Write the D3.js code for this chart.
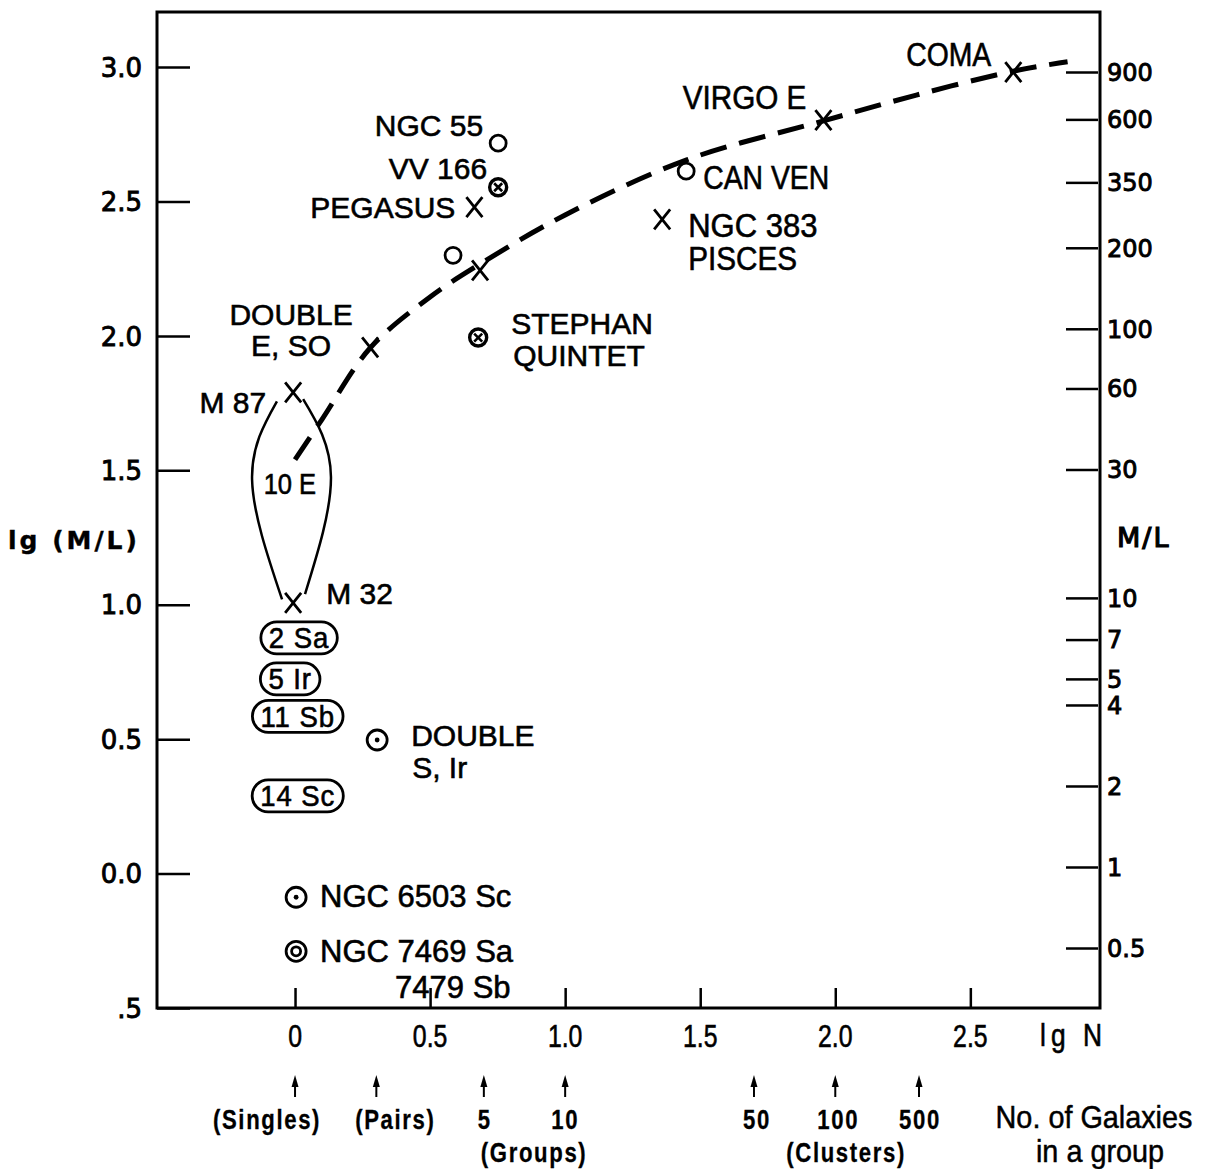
<!DOCTYPE html>
<html>
<head>
<meta charset="utf-8">
<script src="https://cdn.jsdelivr.net/npm/d3@7"></script>
<style>
  body { margin: 0; background: #fff; }
  svg text { fill: #000; }
</style>
</head>
<body>
<svg id="chart" width="1205" height="1169"></svg>
<script>
// lg N (x) vs lg (M/L) (y)
const crosses = [
  { name: "COMA", n: 2.659, ml: 2.981 },
  { name: "VIRGO E", n: 1.956, ml: 2.803 },
  { name: "NGC 383", n: 1.359, ml: 2.434 },
  { name: "PEGASUS", n: 0.664, ml: 2.479 },
  { name: "", n: 0.685, ml: 2.244 },
  { name: "DOUBLE E,SO", n: 0.278, ml: 1.957 },
  { name: "M 87", n: -0.007, ml: 1.790 },
  { name: "M 32", n: -0.007, ml: 1.007 }
];
const openCircles = [
  { name: "NGC 55", n: 0.752, ml: 2.717 },
  { name: "", n: 0.585, ml: 2.300 },
  { name: "CAN VEN", n: 1.448, ml: 2.613 }
];
const circledCrosses = [
  { name: "VV 166", n: 0.752, ml: 2.553 },
  { name: "STEPHAN", n: 0.678, ml: 1.994 }
];
const dotCircles = [
  { name: "DOUBLE S,Ir", n: 0.304, ml: 0.497 },
  { name: "NGC 6503", n: 0.004, ml: -0.088 }
];
const doubleCircles = [
  { name: "NGC 7469", n: 0.004, ml: -0.289 }
];
const boxes = [
  { text: "2 Sa", n: 0.015, ml: 0.877 },
  { text: "5 Ir", n: -0.018, ml: 0.724 },
  { text: "11 Sb", n: 0.010, ml: 0.585 },
  { text: "14 Sc", n: 0.010, ml: 0.289 }
];
const trend = [
  [0.0, 1.54], [0.1, 1.69], [0.278, 1.955], [0.5, 2.145], [0.689, 2.27],
  [1.0, 2.45], [1.45, 2.655], [1.956, 2.80], [2.3, 2.896], [2.659, 2.985], [2.86, 3.02]
];
const lensLeft = [[-0.067, 1.757], [-0.159, 1.465], [-0.048, 1.02]];
const lensRight = [[0.030, 1.765], [0.133, 1.475], [0.037, 1.04]];

const leftTicks = [-0.5, 0, 0.5, 1.0, 1.5, 2.0, 2.5, 3.0];
const rightTicks = [0.5, 1, 2, 4, 5, 7, 10, 30, 60, 100, 200, 350, 600, 900];
const bottomTicks = [0, 0.5, 1.0, 1.5, 2.0, 2.5];
const groupArrows = [0, 0.301, 0.699, 1.0, 1.699, 2.0, 2.31];
const groupLabels = ["(Singles)", "(Pairs)", "5", "10", "50", "100", "500"];

const svg = d3.select("#chart");
const x = d3.scaleLinear().domain([-0.511, 2.98]).range([157, 1100]);
const y = d3.scaleLinear().domain([-0.5, 3.205]).range([1008, 12]);
const ml = d3.scaleLog().domain([0.5, 900]).range([948, 72]);

const sans = "'Liberation Sans', Arial, sans-serif";
const geo = "'DejaVu Sans', sans-serif";

// text helper: optional horizontal squeeze for the condensed lettering
function label(px, py, txt, o = {}) {
  const sx = o.sx || 1;
  const g = svg.append("g").attr("transform", `translate(${px},${py}) scale(${sx},1)`);
  return g.append("text")
    .attr("text-anchor", o.anchor || "start")
    .attr("dominant-baseline", "central")
    .attr("font-family", o.font || sans)
    .attr("font-size", o.size || 30)
    .attr("font-weight", o.weight || "normal")
    .attr("letter-spacing", o.ls || 0)
    .attr("stroke", "#000").attr("stroke-width", o.sw == null ? 0.6 : o.sw)
    .text(txt);
}

// frame
svg.append("rect")
  .attr("x", 157).attr("y", 12).attr("width", 1100 - 157).attr("height", 1008 - 12)
  .attr("fill", "none").attr("stroke", "#000").attr("stroke-width", 3);

// left axis (lg M/L)
const ax = svg.append("g")
  .attr("transform", "translate(157,0)")
  .call(d3.axisLeft(y).tickValues(leftTicks).tickSize(-33).tickPadding(15)
    .tickFormat(d => d === -0.5 ? ".5" : d3.format(".1f")(d)));
ax.select(".domain").remove();
ax.selectAll("line").attr("stroke-width", 2.5);
ax.selectAll("text").attr("font-family", geo).attr("font-size", 26).attr("dy", "0.35em")
  .attr("stroke", "#000").attr("stroke-width", 0.9);

label(8, y(1.238), "lg (M/L)", { font: geo, size: 25, weight: "bold", ls: 3, sw: 0.4 });

// right axis (M/L)
const ar = svg.append("g")
  .attr("transform", "translate(1098,0)")
  .call(d3.axisRight(ml).tickValues(rightTicks).tickSize(-32).tickPadding(9)
    .tickFormat(d => String(d)));
ar.select(".domain").remove();
ar.selectAll("line").attr("stroke-width", 2.5);
ar.selectAll("text").attr("font-family", geo).attr("font-size", 24).attr("dy", "0.35em")
  .attr("stroke", "#000").attr("stroke-width", 0.9);

label(1117, 537, "M/L", { font: geo, size: 27, ls: 2, sw: 1.2 });

// bottom axis (lg N)
const ab = svg.append("g")
  .attr("transform", "translate(0,1008)")
  .call(d3.axisBottom(x).tickValues(bottomTicks).tickSize(-20).tickPadding(18)
    .tickFormat(d => d === 0 ? "0" : d3.format(".1f")(d)));
ab.select(".domain").remove();
ab.selectAll("line").attr("stroke-width", 2.5);
ab.selectAll("text").remove();
bottomTicks.forEach(v => {
  label(x(v), 1037, v === 0 ? "0" : d3.format(".1f")(v), { anchor: "middle", size: 31, sx: 0.8 });
});
label(1040, 1035, "lg N", { size: 31, sx: 0.85, ls: 6 });

// dashed trend
const line = d3.line().x(d => x(d[0])).y(d => y(d[1])).curve(d3.curveCatmullRom.alpha(0.5));
svg.append("path")
  .attr("d", line(trend))
  .attr("fill", "none").attr("stroke", "#000").attr("stroke-width", 5)
  .attr("stroke-dasharray", "27,13");

// lens around the ellipticals
const lens = d3.line().x(d => x(d[0])).y(d => y(d[1])).curve(d3.curveNatural);
[lensLeft, lensRight].forEach(pts => {
  svg.append("path")
    .attr("d", lens(pts))
    .attr("fill", "none").attr("stroke", "#000").attr("stroke-width", 2.5);
});
label(x(-0.019), y(1.45), "10 E", { anchor: "middle", size: 29, sx: 0.88 });

// markers
const marks = svg.append("g").attr("stroke", "#000").attr("fill", "none");

crosses.forEach(d => {
  const cx = x(d.n), cy = y(d.ml);
  marks.append("path")
    .attr("d", `M${cx - 8},${cy - 10}L${cx + 8},${cy + 10}M${cx + 8},${cy - 10}L${cx - 8},${cy + 10}`)
    .attr("stroke-width", 2.8);
});
openCircles.forEach(d => {
  marks.append("circle").attr("cx", x(d.n)).attr("cy", y(d.ml)).attr("r", 8)
    .attr("stroke-width", 2.8);
});
circledCrosses.forEach(d => {
  const cx = x(d.n), cy = y(d.ml);
  marks.append("circle").attr("cx", cx).attr("cy", cy).attr("r", 8.5).attr("stroke-width", 3.4);
  marks.append("path")
    .attr("d", `M${cx - 4},${cy - 4}L${cx + 4},${cy + 4}M${cx + 4},${cy - 4}L${cx - 4},${cy + 4}`)
    .attr("stroke-width", 2.6);
});
dotCircles.forEach(d => {
  const cx = x(d.n), cy = y(d.ml);
  marks.append("circle").attr("cx", cx).attr("cy", cy).attr("r", 10).attr("stroke-width", 2.8);
  marks.append("circle").attr("cx", cx).attr("cy", cy).attr("r", 2.4).attr("fill", "#000").attr("stroke", "none");
});
doubleCircles.forEach(d => {
  const cx = x(d.n), cy = y(d.ml);
  marks.append("circle").attr("cx", cx).attr("cy", cy).attr("r", 10).attr("stroke-width", 2.8);
  marks.append("circle").attr("cx", cx).attr("cy", cy).attr("r", 4.5).attr("stroke-width", 2.8);
});

// boxed counts of types
boxes.forEach(b => {
  const cx = x(b.n), cy = y(b.ml);
  const t = label(cx, cy, b.text, { anchor: "middle", size: 29, sx: 0.95, ls: 1 });
  const w = t.node().getBBox().width * 0.95 + 16, h = 32;
  svg.append("rect")
    .attr("x", cx - w / 2).attr("y", cy - h / 2).attr("width", w).attr("height", h)
    .attr("rx", h / 2).attr("ry", h / 2)
    .attr("fill", "none").attr("stroke", "#000").attr("stroke-width", 2.8);
});

// point labels: [text, anchor point, dx, dy, anchor, size, squeeze]
const all = [].concat(crosses, openCircles, circledCrosses, dotCircles, doubleCircles);
const at = name => all.find(d => d.name === name);
const labels = [
  ["COMA", "COMA", -22, -17, "end", 33, 0.86],
  ["VIRGO E", "VIRGO E", -17, -22, "end", 33, 0.9],
  ["NGC 383", "NGC 383", 26, 6, "start", 33, 0.94],
  ["PISCES", "NGC 383", 26, 40, "start", 33, 0.9],
  ["CAN VEN", "CAN VEN", 17, 7, "start", 33, 0.86],
  ["NGC 55", "NGC 55", -15, -18, "end", 30, 1],
  ["VV 166", "VV 166", -11, -19, "end", 30, 1],
  ["PEGASUS", "PEGASUS", -19, 0, "end", 30, 1],
  ["DOUBLE", "DOUBLE E,SO", -79, -33, "middle", 30, 1],
  ["E, SO", "DOUBLE E,SO", -79, -2, "middle", 30, 1],
  ["STEPHAN", "STEPHAN", 33, -14, "start", 30, 1],
  ["QUINTET", "STEPHAN", 35, 18, "start", 30, 1],
  ["M 87", "M 87", -27, 10, "end", 30, 1],
  ["M 32", "M 32", 33, -9, "start", 30, 1],
  ["DOUBLE", "DOUBLE S,Ir", 34, -4, "start", 30, 1],
  ["S, Ir", "DOUBLE S,Ir", 35, 28, "start", 30, 1],
  ["NGC 6503 Sc", "NGC 6503", 24, -1, "start", 31, 1],
  ["NGC 7469 Sa", "NGC 7469", 24, 0, "start", 31, 1],
  ["7479 Sb", "NGC 7469", 99, 36, "start", 31, 1]
];
labels.forEach(([txt, ref, dx, dy, anchor, size, sx]) => {
  const p = at(ref);
  label(x(p.n) + dx, y(p.ml) + dy, txt, { anchor, size, sx });
});

// number of galaxies in a group
const labelShift = [-28, 19, 1, 0, 3, 3, 1];
groupArrows.forEach((n, i) => {
  const ax0 = x(n);
  svg.append("line")
    .attr("x1", ax0).attr("x2", ax0).attr("y1", 1097).attr("y2", 1082)
    .attr("stroke", "#000").attr("stroke-width", 2);
  svg.append("path")
    .attr("d", `M${ax0},1075L${ax0 - 3.5},1087L${ax0 + 3.5},1087Z`)
    .attr("fill", "#000");
  label(ax0 + labelShift[i], 1120, groupLabels[i],
    { anchor: "middle", size: 27, weight: "bold", sx: 0.82, ls: 2, sw: 0.3 });
});
label(x(0.885), 1153, "(Groups)", { anchor: "middle", size: 27, weight: "bold", sx: 0.82, ls: 2, sw: 0.3 });
label(x(2.04), 1153, "(Clusters)", { anchor: "middle", size: 27, weight: "bold", sx: 0.82, ls: 2, sw: 0.3 });
label(1094, 1116, "No. of Galaxies", { anchor: "middle", size: 32, sx: 0.9, sw: 0.5 });
label(1100, 1150, "in a group", { anchor: "middle", size: 32, sx: 0.9, sw: 0.5 });
</script>
</body>
</html>
